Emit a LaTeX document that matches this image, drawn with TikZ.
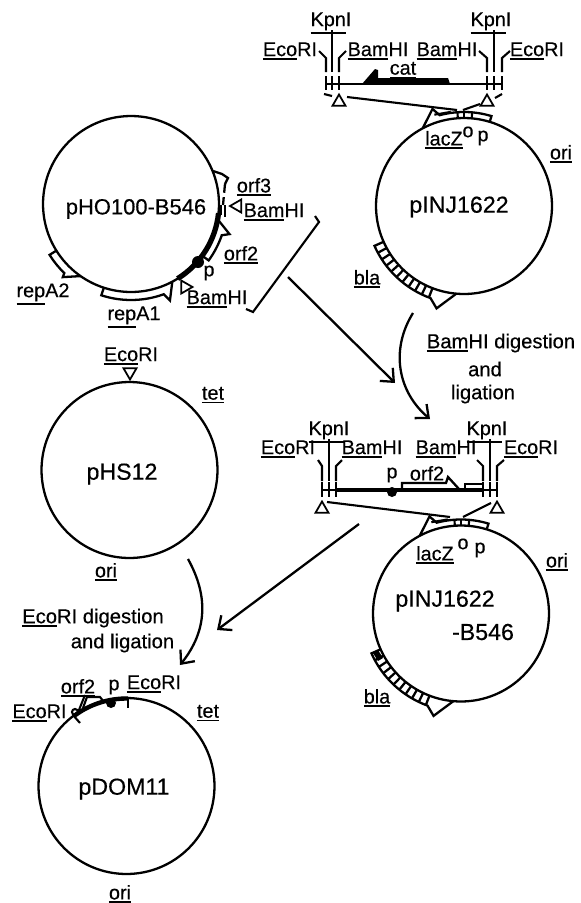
\documentclass[tikz,border=0pt]{standalone}
\usepackage{fontspec}
\setmainfont{Liberation Sans}[FakeBold=0.4]
\usepackage{tikz}
\usetikzlibrary{arrows.meta, shapes.geometric}
\tikzset{
  plasmid/.style={draw, circle, line width=1.3pt, inner sep=0, minimum size=3.52cm},
  lbl/.style={inner sep=0, font=\fontsize{11.3}{12}\selectfont},
  captxt/.style={inner sep=0, font=\fontsize{11.5}{13}\selectfont},
  name1/.style={inner sep=0, font=\fontsize{13.2}{15}\selectfont},
  sitetri/.style={draw, regular polygon, regular polygon sides=3, inner sep=0, outer sep=0, minimum size=0.3cm, line width=1pt},
  site/.style={line width=1.2pt},
  gene/.style={line width=1.3pt, line join=miter},
  bigarrow/.style={line width=1.3pt, -{Straight Barb[length=6pt, width=10.5pt]}}
}
\newcommand{\un}[1]{\leavevmode\vtop{\hbox{#1}\kern1pt\hrule height 0.9pt}}
% arrow along a circle: centre, start, end, tip angle, tip radius, end on circle
\newcommand{\genearrow}[6]{
\begin{scope}[shift={(#1.center)}]
\draw[gene] (#2:88) -- (#2:96) arc[start angle=#2, end angle=#3, radius=96] -- (#4:#5) -- (#6:88);
\end{scope}
}
\newcommand{\lacband}[1]{
\begin{scope}[shift={(#1.center)}]
\draw[gene] (118:88) -- (108:102) -- (105:94) arc[start angle=105, end angle=73, radius=94] -- (73:88);
\draw[site] (108:96) -- (98:95);
\foreach \a in {94,90,85} \draw[site] (\a:88) -- (\a:94);
\end{scope}
}
\newcommand{\blaband}[1]{
\begin{scope}[shift={(#1.center)}]
\draw[gene] (204:88) -- (204:98) arc[start angle=204, end angle=250, radius=98] -- (255:106) -- (265:88);
\foreach \a in {208.5,213,...,249} \draw[line width=1.3pt] (\a:88) -- (\a:98);
\end{scope}
}
\begin{document}
\begin{tikzpicture}[x=0.02cm, y=0.02cm]
\useasboundingbox (0,0) rectangle (581,-903);
% plasmids
\node[plasmid] (inj) at (464,-206) {};
\node[plasmid] (pho) at (131,-204) {};
\node[plasmid] (phs) at (129.5,-470) {};
\node[plasmid] (injb) at (461,-613.5) {};
\node[plasmid] (dom) at (126.5,-786) {};
\node[name1] (injname) at (459,-207) {pINJ1622};
\node[name1, font=\fontsize{12.5}{15}\selectfont] (phoname) at (136,-209) {pHO100-B546};
\node[name1] (phsname) at (122,-474) {pHS12};
\node[name1] (injbname) at (445,-601) {pINJ1622};
\node[name1] (injbname2) at (483,-632) {-B546};
\node[name1] (domname) at (124,-789) {pDOM11};
% upper map
\draw[site] (326,-84) -- (502,-84);
\foreach \x in {326,332,339,487,494,502} \draw[site] (\x,-76) -- (\x,-90);
\foreach \a/\b in {319/326, 346/339, 479/487, 510/502} \draw[site] (\a,-51) -- (\b,-58) -- (\b,-72);
\foreach \x in {332,494} \draw[site] (\x,-30) -- (\x,-72);
\fill (362,-84) -- (375,-69) -- (378,-70) -- (378,-78) -- (448,-78) -- (450,-84) -- cycle;
\node[lbl] (kpn1) at (331,-23) {\un{Kpn}I};
\node[lbl] (kpn2) at (491,-23) {\un{Kpn}I};
\node[lbl] (eco1) at (290,-51) {\un{Eco}RI};
\node[lbl] (bam1) at (378,-51) {\un{Bam}HI};
\node[lbl] (bam2) at (447,-51) {\un{Bam}HI};
\node[lbl] (eco2) at (537,-51) {\un{Eco}RI};
\node[lbl] (cat1) at (403,-70) {\un{cat}};
\node[sitetri] (tri1) at (339,-102) {};
\node[sitetri] (tri2) at (487,-102) {};
\coordinate (ln1) at (347,-97);
\coordinate (ln1b) at (457,-110);
\coordinate (ln2) at (480,-104);
\coordinate (ln2b) at (463,-110);
\draw[site] (ln1) -- (ln1b);
\draw[site] (ln2) -- (ln2b);
\draw[site] (324,-94) -- (332,-96);
\draw[site] (495,-98) -- (502,-94);
\lacband{inj}
\blaband{inj}
\node[lbl] (lac1) at (444,-140) {\un{lacZ}};
\node[lbl] (o1) at (468,-132) {o};
\node[lbl] (p1) at (483,-138) {p};
\node[lbl] (ori1) at (561,-154) {\un{ori}};
\node[lbl] (bla1) at (367,-279) {\un{bla}};
% pHO100-B546
\draw[line width=3pt] (pho.center) ++(-58:88) arc[start angle=-58, end angle=-6, radius=88];
\fill (198,-262) circle (6);
\fill (218,-205) rectangle (222,-215);
\draw[site] (225,-205) -- (225,-217);
\genearrow{pho}{-36}{-19}{-17}{103}{-10}
\genearrow{pho}{252}{290}{292}{104}{298}
\genearrow{pho}{212}{226}{227}{100}{235}
\draw[gene] (213,-171) -- (222,-174) -- (228,-178) -- (225,-184);
\draw[gene, dashed, dash pattern=on 5pt off 2.5pt] (225,-184) -- (223,-205);
\node[sitetri, rotate=90] (tri3) at (237.5,-206) {};
\node[sitetri, rotate=-90] (tri4) at (185,-287) {};
\node[lbl] (orf3) at (254,-187) {\un{orf3}};
\node[lbl] (bam3) at (274,-212) {\un{Bam}HI};
\node[lbl] (orf2) at (241,-255) {\un{orf2}};
\node[lbl] (p2) at (209,-273) {p};
\node[lbl] (bam4) at (217,-299) {\un{Bam}HI};
\node[lbl] (rep1) at (134,-317) {\un{rep}A1};
\node[lbl] (rep2) at (43,-294) {\un{rep}A2};
\coordinate (br1) at (315,-216);
\coordinate (br2) at (319,-222);
\coordinate (br3) at (253,-312);
\coordinate (br4) at (246,-309);
\draw[line width=1.2pt] (br1) -- (br2) -- (br3) -- (br4);
% arrows
\coordinate (arrA) at (288,-277);
\coordinate (arrAe) at (395,-383);
\draw[bigarrow] (arrA) -- (arrAe);
\coordinate (arrB) at (413,-313);
\coordinate (arrBe) at (430,-419);
\draw[bigarrow] (arrB) .. controls (390,-350) and (398,-392) .. (arrBe);
\coordinate (arrC) at (359,-524);
\coordinate (arrCe) at (217,-630);
\draw[bigarrow] (arrC) -- (arrCe);
\coordinate (arrD) at (188,-559);
\coordinate (arrDe) at (180,-665);
\draw[bigarrow] (arrD) .. controls (208,-595) and (208,-630) .. (arrDe);
\node[captxt] (capA) at (501,-343) {\un{Bam}HI digestion};
\node[captxt] (capB) at (485,-369) {and};
\node[captxt] (capC) at (483,-394) {ligation};
\node[captxt] (capD) at (93,-618) {\un{Eco}RI digestion};
\node[captxt] (capE) at (122.5,-643) {and ligation};
% lower map
\draw[site] (322,-490) -- (497,-490);
\draw[line width=2.5pt] (337,-490) -- (483,-490);
\foreach \x in {322,329,336,483,490,497} \draw[site] (\x,-482) -- (\x,-497);
\foreach \a/\b in {318/322, 342/336, 477/483, 504/497} \draw[site] (\a,-460) -- (\b,-466) -- (\b,-481);
\foreach \x in {329,490} \draw[site] (\x,-439) -- (\x,-481);
\fill (392,-492) circle (5);
\draw[gene] (402,-488) -- (402,-483) -- (446,-483) -- (448,-477) -- (459,-489);
\draw[gene] (465,-488) -- (465,-484) -- (483,-484) -- (483,-488);
\node[lbl] (kpn3) at (329,-432) {\un{Kpn}I};
\node[lbl] (kpn4) at (487,-432) {\un{Kpn}I};
\node[lbl] (eco3) at (288,-449) {\un{Eco}RI};
\node[lbl] (bam5) at (372,-449) {\un{Bam}HI};
\node[lbl] (bam6) at (446,-449) {\un{Bam}HI};
\node[lbl] (eco4) at (531,-449) {\un{Eco}RI};
\node[lbl] (p3) at (392,-475) {p};
\node[lbl] (orf2b) at (427,-475) {\un{orf2}};
\node[sitetri] (tri5) at (322,-509) {};
\node[sitetri] (tri6) at (497,-509) {};
\coordinate (ln3) at (327,-502);
\coordinate (ln3b) at (450,-517);
\coordinate (ln4) at (491,-503);
\coordinate (ln4b) at (463,-517);
\draw[site] (ln3) -- (ln3b);
\draw[site] (ln4) -- (ln4b);
\lacband{injb}
\blaband{injb}
\fill (373,-653) -- (378,-650) -- (383,-658) -- (378,-661) -- cycle;
\node[lbl] (lac2) at (435,-555) {\un{lacZ}};
\node[lbl] (o2) at (463,-544) {o};
\node[lbl] (p4) at (480,-550) {p};
\node[lbl] (ori2) at (557,-562) {\un{ori}};
\node[lbl] (bla2) at (377,-698) {\un{bla}};
% pHS12
\node[sitetri, rotate=180] (tri7) at (130,-372) {};
\node[lbl] (eco5) at (131,-356) {\un{Eco}RI};
\node[lbl] (tet1) at (213,-395) {\un{tet}};
\node[lbl] (ori3) at (106,-572) {\un{ori}};
% pDOM11
\draw[line width=2.5pt] (dom.center) ++(127:87.5) arc[start angle=127, end angle=89, radius=87.5];
\fill (111,-703) circle (5);
\draw[site] (128,-698) -- (128,-708);
\draw[site] (73,-715) -- (80,-723);
\draw[site] (75,-712) circle (3);
\draw[site] (85,-695) -- (77,-715);
\draw[site] (83,-708) -- (87,-697) -- (100,-697) -- (104,-702);
\node[lbl] (orf2c) at (78,-688) {\un{orf2}};
\node[lbl] (p5) at (114,-687) {p};
\node[lbl] (eco6) at (154,-684) {\un{Eco}RI};
\node[lbl] (eco7) at (39.5,-713) {\un{Eco}RI};
\node[lbl] (tet2) at (208,-713) {\un{tet}};
\node[lbl] (ori4) at (120,-894) {\un{ori}};
\end{tikzpicture}
\end{document}
